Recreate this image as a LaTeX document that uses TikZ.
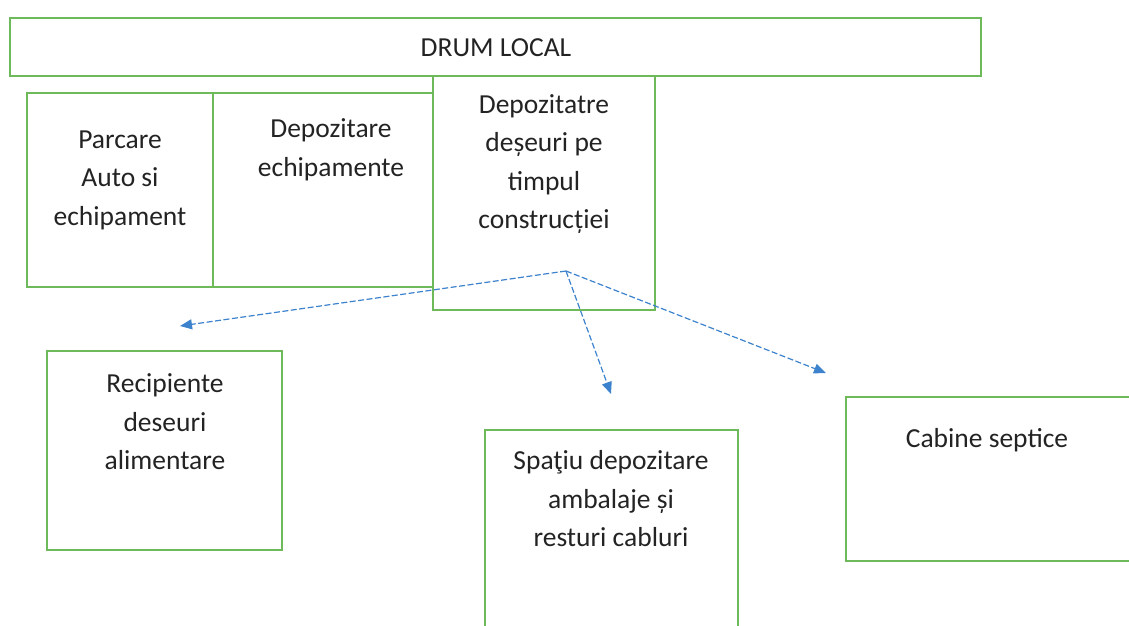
\documentclass[tikz,border=0pt]{standalone}
\usepackage{fontspec}
\setmainfont{Carlito}
\usetikzlibrary{arrows.meta}
\definecolor{boxgreen}{RGB}{110,185,90}
\definecolor{arrblue}{RGB}{60,130,205}
\definecolor{txt}{RGB}{35,35,35}
\tikzset{
  area/.style={draw=boxgreen, line width=2.6pt, fill=none},
  lbl/.style={text=txt, align=center, inner sep=0pt, font=\fontsize{27.5}{38.5}\selectfont},
  flow/.style={draw=arrblue, line width=1.2pt, dash pattern=on 6pt off 2.5pt, -{Triangle[length=12pt,width=10pt]}}
}
\begin{document}
\begin{tikzpicture}[x=1pt,y=-1pt]
\useasboundingbox (0,0) rectangle (1129,626);
\clip (0,0) rectangle (1129,626);
% boxes
\draw[area] (10,18) rectangle (981,76);
\node (drum) [lbl] at (496,48) {DRUM LOCAL};
\draw[area] (27,93) rectangle (213,287);
\draw[area] (213,93) rectangle (433,287);
\draw[area,fill=white] (433,76) rectangle (655,310);
\draw[area] (47,351) rectangle (282,550);
\draw[area] (485,430) rectangle (738,640);
\draw[area] (846,397) rectangle (1140,561);
% texts
\node (parcare) [lbl] at (120,180) {Parcare\\Auto si\\echipament};
\node (depech) [lbl] at (331,150) {Depozitare\\echipamente};
\node (depdes) [lbl] at (544,164) {Depozitatre\\deșeuri pe\\timpul\\construcției};
\node (recip) [lbl] at (165,422) {Recipiente\\deseuri\\alimentare};
\node (spatiu) [lbl] at (611,499) {Spaţiu depozitare\\ambalaje și\\resturi cabluri};
\node (cabine) [lbl] at (987,440) {Cabine septice};
% connectors
\coordinate (src) at (566,271);
\coordinate (toRecip) at (180,326);
\coordinate (toSpatiu) at (611,394);
\coordinate (toCabine) at (826,373);
\draw[flow] (src) -- (toRecip);
\draw[flow] (src) -- (toSpatiu);
\draw[flow] (src) -- (toCabine);
\end{tikzpicture}
\end{document}
